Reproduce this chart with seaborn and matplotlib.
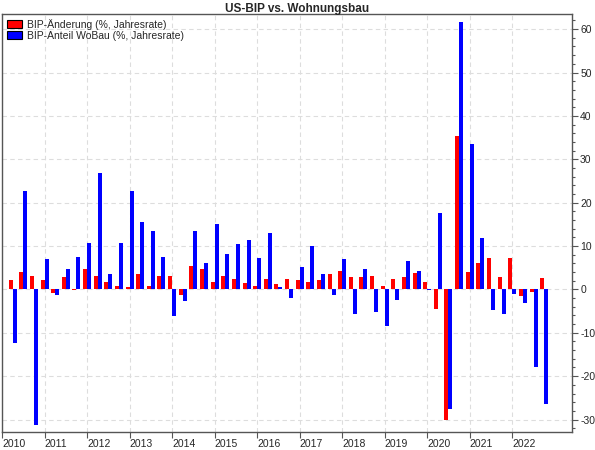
import pandas as pd
import matplotlib
matplotlib.use("Agg")
import matplotlib.pyplot as plt
import seaborn as sns
from matplotlib.patches import Patch
from matplotlib.ticker import MultipleLocator

# Quarterly data, 2010 Q1 - 2022 Q3
quarters = [f"{y}Q{q}" for y in range(2010, 2023) for q in range(1, 5)][:51]

gdp_change = [
    2.1, 3.9, 3.0, 2.1,      # 2010
    -0.9, 2.8, -0.1, 4.6,    # 2011
    3.2, 1.8, 0.7, 0.5,      # 2012
    3.5, 0.7, 3.2, 3.0,      # 2013
    -1.4, 5.3, 4.6, 1.8,     # 2014
    3.2, 2.3, 1.4, 0.7,      # 2015
    2.3, 1.2, 2.3, 2.1,      # 2016
    1.6, 2.1, 3.5, 4.2,      # 2017
    2.8, 2.8, 3.0, 0.7,      # 2018
    2.3, 2.8, 3.7, 1.8,      # 2019
    -4.5, -30.2, 35.4, 3.9,  # 2020
    6.2, 7.2, 2.8, 7.2,      # 2021
    -1.5, -0.6, 2.6,         # 2022
]

housing_change = [
    -12.4, 22.7, -31.2, 6.9,   # 2010
    -1.4, 4.6, 7.4, 10.8,      # 2011
    26.8, 3.5, 10.8, 22.7,     # 2012
    15.5, 13.4, 7.4, -6.2,     # 2013
    -2.7, 13.4, 6.0, 15.0,     # 2014
    8.1, 10.4, 11.3, 7.2,      # 2015
    12.9, 0.5, -2.0, 5.1,      # 2016
    9.9, 3.5, -1.3, 6.9,       # 2017
    -5.7, 4.6, -5.2, -8.5,     # 2018
    -2.5, 6.5, 4.2, -0.2,      # 2019
    17.5, -27.6, 61.7, 33.5,   # 2020
    11.8, -4.8, -5.7, -1.1,    # 2021
    -3.2, -18.0, -26.5,        # 2022
]

year_labels = [str(y) for y in range(2010, 2023)]

label_gdp = "BIP-Änderung (%, Jahresrate)"
label_housing = "BIP-Anteil WoBau (%, Jahresrate)"

df = pd.DataFrame({
    "Quartal": quarters * 2,
    "Wert": gdp_change + housing_change,
    "Reihe": [label_gdp] * len(quarters) + [label_housing] * len(quarters),
})

sns.set_theme(style="white")
plt.rcParams["font.family"] = ["Liberation Sans", "DejaVu Sans"]
plt.rcParams["axes.unicode_minus"] = False

fig = plt.figure(figsize=(5.95, 4.5), dpi=100)
ax = fig.add_axes([0.0034, 0.0407, 0.9576, 0.9283])

palette = {label_gdp: "#ff0000", label_housing: "#0000ff"}
sns.barplot(data=df, x="Quartal", y="Wert", hue="Reihe", palette=palette,
            width=0.75, saturation=1, linewidth=0, ax=ax, legend=False)

# year ticks sit one quarter before each Q1 bar, labels start at the tick
ax.set_xticks([4 * i - 1 for i in range(len(year_labels))])
ax.set_xticklabels(year_labels, fontsize=7.5, ha="left")
ax.set_xlim(-1.0, 52.6)
ax.set_ylim(-32.8, 63.5)

ax.yaxis.tick_right()
ax.yaxis.set_major_locator(MultipleLocator(10))
ax.yaxis.set_minor_locator(MultipleLocator(2))
ax.tick_params(axis="y", which="major", length=4, width=0.8, color="#555555",
               labelsize=7.5, pad=2, right=True, left=False)
ax.tick_params(axis="y", which="minor", length=2.5, width=0.8, color="#555555",
               right=True, left=False)
ax.tick_params(axis="x", length=4, width=0.8, color="#555555", labelsize=7.5,
               pad=1, bottom=True)

ax.grid(True, which="major", color="#dddddd", linestyle=(0, (4, 3)), linewidth=0.8)
ax.set_axisbelow(True)
for sp in ax.spines.values():
    sp.set_color("#555555")
    sp.set_linewidth(1.0)

ax.set_xlabel("")
ax.set_ylabel("")
fig.suptitle("US-BIP vs. Wohnungsbau", fontsize=8.5, fontweight="bold", y=0.993)

handles = [Patch(facecolor="#ff0000", edgecolor="black", linewidth=0.8),
           Patch(facecolor="#0000ff", edgecolor="black", linewidth=0.8)]
ax.legend(handles, [label_gdp, label_housing], loc="upper left", frameon=False,
          fontsize=7.5, handlelength=1.4, handleheight=0.8, handletextpad=0.5,
          labelspacing=0.1, borderaxespad=0.3, borderpad=0.2)

fig.savefig("out.png", dpi=100)
